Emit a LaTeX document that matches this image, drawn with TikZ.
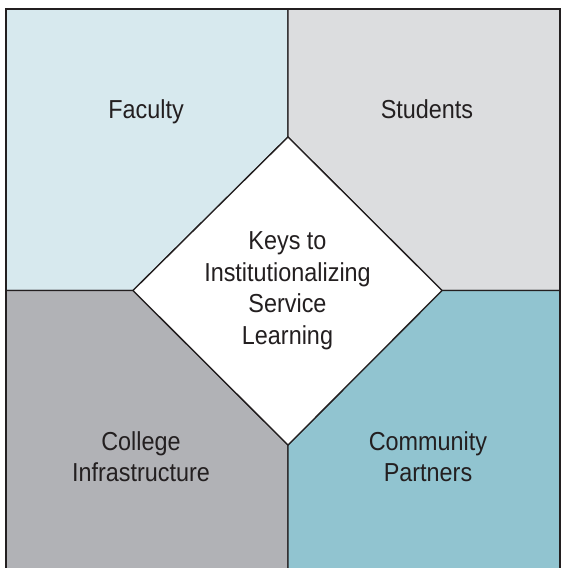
\documentclass[tikz,border=0pt]{standalone}
\usepackage{fontspec}
\setmainfont{Liberation Sans}[FakeStretch=0.9]
\definecolor{ink}{HTML}{231F20}
\definecolor{facultyc}{HTML}{D7E9EE}
\definecolor{studentsc}{HTML}{DCDDDF}
\definecolor{collegec}{HTML}{B1B2B6}
\definecolor{communityc}{HTML}{91C4D0}
\tikzset{
  region/.style={draw=ink, line width=0.65pt, line join=miter},
  label/.style={align=center, text=ink, anchor=base, inner sep=0pt,
    font=\fontsize{13pt}{15.7pt}\selectfont},
}
\begin{document}
\begin{tikzpicture}[x=0.5pt,y=-0.5pt]
\useasboundingbox (0,0) rectangle (561,568);
\clip (0,0) rectangle (561,568);
\fill[white] (0,0) rectangle (561,568);
% key points
\coordinate (T) at (288,137);
\coordinate (L) at (133,290.5);
\coordinate (R) at (442,290.5);
\coordinate (B) at (288,445);
% regions
\path[region, fill=facultyc] (6,9) -- (288,9) -- (T) -- (L) -- (6,290.5) -- cycle;
\path[region, fill=studentsc] (288,9) -- (561,9) -- (561,290.5) -- (R) -- (T) -- cycle;
\path[region, fill=collegec] (6,290.5) -- (L) -- (B) -- (288,580) -- (6,580) -- cycle;
\path[region, fill=communityc] (R) -- (561,290.5) -- (561,580) -- (288,580) -- (B) -- cycle;
\path[region, fill=white] (T) -- (R) -- (B) -- (L) -- cycle;
% outer frame
\draw[ink, line width=1pt] (6,580) -- (6,9) -- (560,9) -- (560,580);
% labels (base anchor = baseline of the last line)
\node[label] (faculty) at (146,118) {Faculty};
\node[label] (students) at (427,118) {Students};
\node[label] (keys) at (287.5,344) {Keys to\\Institutionalizing\\Service\\Learning};
\node[label] (college) at (141,481.5) {College\\Infrastructure};
\node[label] (community) at (428,481.5) {Community\\Partners};
\end{tikzpicture}
\end{document}
